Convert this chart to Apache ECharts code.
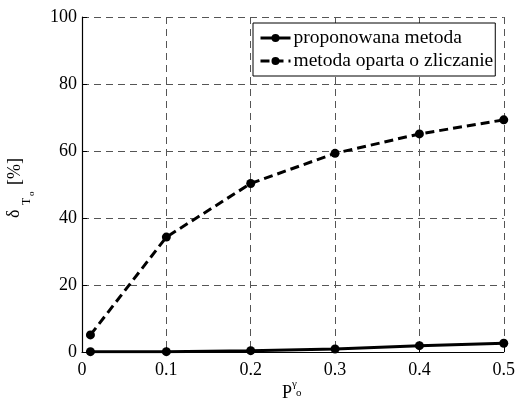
<!DOCTYPE html>
<html>
<head>
<meta charset="utf-8">
<script src="https://cdn.jsdelivr.net/npm/echarts@6/dist/echarts.min.js"></script>
<style>
  html, body { margin: 0; padding: 0; background: #fff; }
  #chart { width: 518px; height: 398px; }
</style>
</head>
<body>
<div id="chart"></div>
<script>
const xValues = [0.01, 0.1, 0.2, 0.3, 0.4, 0.5];
const proposed = [0.1, 0.1, 0.4, 0.9, 1.9, 2.6];
const counting = [5.1, 34.3, 50.3, 59.3, 65.1, 69.3];
const seriesNames = ['proponowana metoda', 'metoda oparta o zliczanie'];

const FONT = 'Liberation Serif';
const GRID_LINE = { show: true, lineStyle: { color: '#555', width: 1, type: [7, 5] } };
const AXIS_LINE = { show: true, onZero: false, lineStyle: { color: '#000', width: 1.2 } };
const TICK = { show: true, inside: true, length: 5, lineStyle: { color: '#000' } };

const pairs = (ys) => xValues.map((x, i) => [x, ys[i]]);

const chart = echarts.init(document.getElementById('chart'));
chart.setOption({
  animation: false,
  textStyle: { fontFamily: FONT },
  grid: { left: 82, right: 14, top: 17, bottom: 46 },
  xAxis: {
    type: 'value', min: 0, max: 0.5, interval: 0.1,
    axisLine: AXIS_LINE, axisTick: TICK, splitLine: GRID_LINE,
    axisLabel: { color: '#000', fontSize: 18, fontFamily: FONT, margin: 9 },
  },
  yAxis: {
    type: 'value', min: 0, max: 100, interval: 20,
    axisLine: AXIS_LINE, axisTick: TICK, splitLine: GRID_LINE,
    axisLabel: { color: '#000', fontSize: 18, fontFamily: FONT, margin: 5 },
  },
  legend: {
    orient: 'vertical', left: 253, top: 23,
    backgroundColor: '#fff', borderColor: '#000', borderWidth: 1,
    padding: [5, 2, 5, 6], itemGap: 3, itemWidth: 30, itemHeight: 10,
    lineStyle: { width: 3 },
    textStyle: { color: '#000', fontSize: 19.5, fontFamily: FONT, padding: [0, 0, 0, -2] },
    data: seriesNames,
  },
  series: [
    {
      name: seriesNames[0], type: 'line', data: pairs(proposed),
      symbol: 'circle', symbolSize: 9,
      lineStyle: { color: '#000', width: 3 }, itemStyle: { color: '#000' },
    },
    {
      name: seriesNames[1], type: 'line', data: pairs(counting),
      symbol: 'circle', symbolSize: 9,
      lineStyle: { color: '#000', width: 3, type: [9, 5] }, itemStyle: { color: '#000' },
    },
  ],
  graphic: [
    // x axis label P^γ_o
    { type: 'text', left: 282, top: 384, style: { text: 'P', font: `18px ${FONT}`, fill: '#000' } },
    { type: 'text', left: 292, top: 379, style: { text: 'γ', font: `11px ${FONT}`, fill: '#000' } },
    { type: 'text', left: 296, top: 388, style: { text: 'o', font: `11px ${FONT}`, fill: '#000' } },
    // y axis label δ_To [%]
    { type: 'text', x: 14, y: 218, rotation: Math.PI / 2,
      style: { text: 'δ', font: `18px ${FONT}`, fill: '#000', align: 'left', verticalAlign: 'middle' } },
    { type: 'text', x: 27, y: 205, rotation: Math.PI / 2,
      style: { text: 'T', font: `12px ${FONT}`, fill: '#000', align: 'left', verticalAlign: 'middle' } },
    { type: 'text', x: 32, y: 196, rotation: Math.PI / 2,
      style: { text: 'o', font: `9px ${FONT}`, fill: '#000', align: 'left', verticalAlign: 'middle' } },
    { type: 'text', x: 15, y: 185, rotation: Math.PI / 2,
      style: { text: '[%]', font: `18px ${FONT}`, fill: '#000', align: 'left', verticalAlign: 'middle' } },
  ],
});
</script>
</body>
</html>
